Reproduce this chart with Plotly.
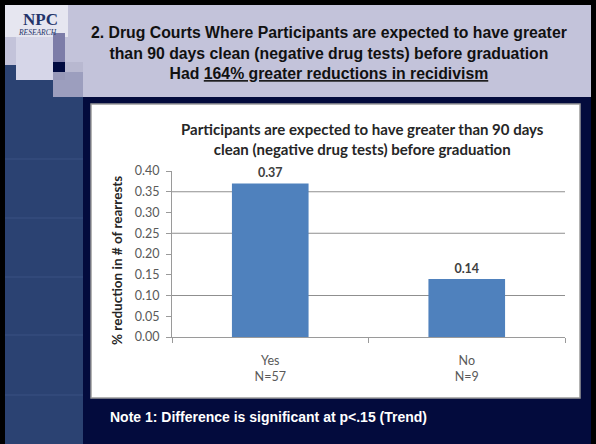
import plotly.graph_objects as go

# ---- data ----
categories = ["Yes<br>N=57", "No<br>N=9"]
values = [0.37, 0.14]
value_labels = ["0.37", "0.14"]
y_ticks = [0.00, 0.05, 0.10, 0.15, 0.20, 0.25, 0.30, 0.35, 0.40]
visible_grid = [0.10, 0.25, 0.35]

chart_title = ("Participants are expected to have greater than 90 days<br>"
               "clean (negative drug tests) before graduation")
y_title = "% reduction in # of rearrests"
slide_title = ("2. Drug Courts Where Participants are expected to have greater<br>"
               "than 90 days clean (negative drug tests) before graduation<br>"
               "Had <u>164% greater reductions in recidivism</u>")
note = "Note 1: Difference is significant at p<.15 (Trend)"

W, H = 596, 444
L, R, T, B = 172, 565, 171, 337  # plot area pixels
PW, PH = R - L, B - T


def px(x):
    return (x - L) / PW


def py(y):
    return (B - y) / PH


NAVY = "#030b3d"
LAV = "#c3c3da"
STRIP = "#2b4272"

fig = go.Figure()
fig.add_trace(go.Bar(
    x=categories, y=values, width=0.39,
    marker=dict(color="#4f81bd", line=dict(width=0)),
    text=value_labels, textposition="outside",
    textfont=dict(family="Lato", size=12.5, color="#404040", weight="bold"),
    cliponaxis=False, hoverinfo="skip",
))

shapes = []


def rect(x0, y0, x1, y1, color, line=None, opacity=1.0):
    shapes.append(dict(type="rect", xref="paper", yref="paper",
                       x0=px(x0), x1=px(x1), y0=py(y1), y1=py(y0),
                       fillcolor=color, opacity=opacity,
                       line=line or dict(width=0), layer="below"))


# outer frame and backgrounds
rect(0, 0, W, H, "#000000")
rect(5, 5, 591, H, NAVY)
rect(5, 5, 591, 97, LAV)
# left strip
rect(5, 65, 83, H, STRIP)
for yy in [159, 218, 277, 335, 395]:
    shapes.append(dict(type="line", xref="paper", yref="paper",
                       x0=px(5), x1=px(83), y0=py(yy), y1=py(yy),
                       line=dict(color="#3a5182", width=1), layer="below"))
# logo squares
rect(5, 5, 68, 37, "#e6e6f0")
rect(16, 37, 53, 80, "#d6d6e8")
rect(53, 33, 65, 62, "#7c7ca8")
rect(53, 62, 65, 80, "#000a40")
rect(53, 72, 83, 97, "#a9a9c6", opacity=0.9)
rect(65, 62, 83, 72, "#b8b8d0")
# white chart box
rect(91, 104, 580, 398, "#ffffff", line=dict(color="#9a9a9a", width=1.5))
# gridlines
for g in visible_grid:
    shapes.append(dict(type="line", xref="paper", yref="y",
                       x0=0, x1=1, y0=g, y1=g,
                       line=dict(color="#8f8f8f", width=1), layer="below"))

annotations = [
    dict(text=slide_title, x=px(329), y=py(53), xref="paper", yref="paper",
         showarrow=False, xanchor="center", yanchor="middle",
         font=dict(family="Liberation Sans", size=15.8, color="#111111", weight="bold"),
         align="center"),
    dict(text="NPC", x=px(40), y=py(19), xref="paper", yref="paper",
         showarrow=False, xanchor="center", yanchor="middle",
         font=dict(family="Liberation Serif", size=17, color="#24346a", weight="bold")),
    dict(text="<i>RESEARCH</i>", x=px(37), y=py(32), xref="paper", yref="paper",
         showarrow=False, xanchor="center", yanchor="middle",
         font=dict(family="Liberation Serif", size=7.5, color="#24346a")),
    dict(text=chart_title, x=px(362), y=py(139), xref="paper", yref="paper",
         showarrow=False, xanchor="center", yanchor="middle",
         font=dict(family="Lato", size=15, color="#262626", weight="bold"),
         align="center"),
    dict(text=y_title, x=px(117), y=py(261), xref="paper", yref="paper",
         showarrow=False, xanchor="center", yanchor="middle", textangle=-90,
         font=dict(family="Lato", size=13.5, color="#262626", weight="bold")),
    dict(text=note, x=px(108), y=py(417), xref="paper", yref="paper",
         showarrow=False, xanchor="left", yanchor="middle",
         font=dict(family="Liberation Sans", size=14, color="#ffffff", weight="bold")),
]

fig.update_layout(
    width=W, height=H,
    margin=dict(l=L, r=W - R, t=T, b=H - B, pad=0),
    paper_bgcolor=NAVY, plot_bgcolor="#ffffff",
    showlegend=False, shapes=shapes, annotations=annotations,
    bargap=0.6,
)
fig.update_xaxes(
    showgrid=False, showline=True, linecolor="#9a9a9a", linewidth=1,
    ticks="outside", tickson="boundaries", ticklen=5, tickcolor="#9a9a9a",
    tickfont=dict(family="Lato", size=12.5, color="#595959"),
    ticklabelstandoff=12, fixedrange=True,
)
fig.update_yaxes(
    range=[0, 0.40], tickvals=y_ticks, tickformat=".2f",
    showgrid=False, showline=True, linecolor="#9a9a9a", linewidth=1,
    ticks="outside", ticklen=5, tickcolor="#9a9a9a", zeroline=False,
    tickfont=dict(family="Lato", size=12.5, color="#595959"),
    ticklabelstandoff=4, fixedrange=True,
)

fig.write_html(
    "out.html", config=dict(displayModeBar=False),
    post_script="document.body.style.margin='0';document.body.style.overflow='hidden';",
)
